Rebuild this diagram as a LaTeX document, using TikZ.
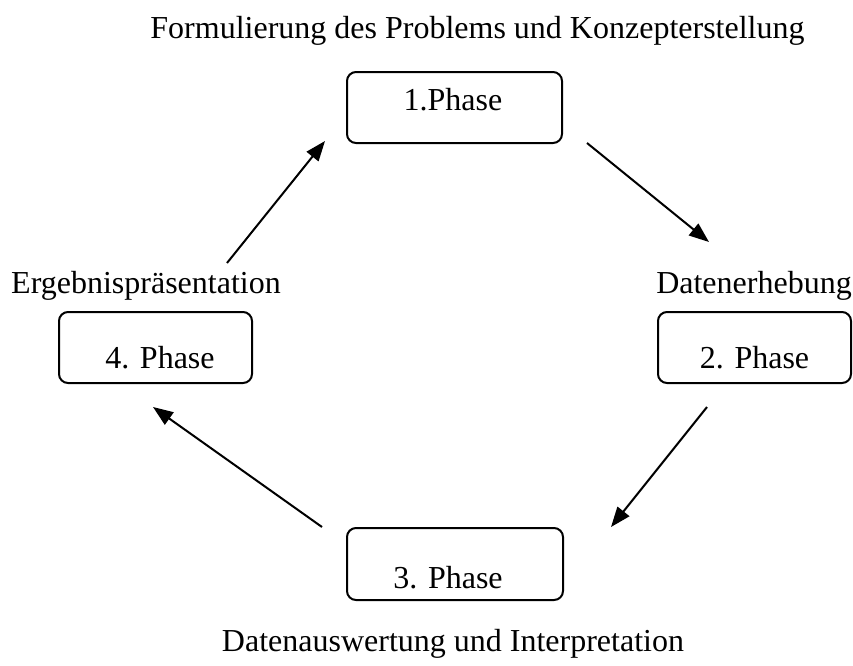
\documentclass[tikz,border=0pt]{standalone}
\usepackage{fontspec}
\setmainfont{Liberation Serif}
\usetikzlibrary{arrows.meta}
\begin{document}
\begin{tikzpicture}[x=1pt,y=-1pt,
  phasebox/.style={draw, line width=2pt, rounded corners=9pt, inner sep=0pt, minimum height=71pt},
  lbl/.style={anchor=base, inner sep=0pt, font=\fontsize{32}{38}\selectfont},
  flow/.style={line width=2pt, -{Triangle[length=20pt,width=15pt]}}]
\useasboundingbox (0,0) rectangle (853,665);
% boxes
\node[phasebox, minimum width=215pt] (b1) at (454.5,107.5) {};
\node[phasebox, minimum width=193pt] (b2) at (754.5,347.5) {};
\node[phasebox, minimum width=216pt, minimum height=72pt] (b3) at (455,564) {};
\node[phasebox, minimum width=193pt] (b4) at (155.5,347.5) {};
% box texts
\node[lbl] (t1) at (453,110) {1.Phase};
\node[lbl] (t2) at (754.5,368) {2. Phase};
\node[lbl] (t3) at (448,588) {3. Phase};
\node[lbl] (t4) at (160,368) {4. Phase};
% captions
\node[lbl] (c1) at (477.5,38) {Formulierung des Problems und Konzepterstellung};
\node[lbl] (c2) at (754,293) {Datenerhebung};
\node[lbl] (c3) at (453,651) {Datenauswertung und Interpretation};
\node[lbl] (c4) at (146,293) {Ergebnispräsentation};
% arrow ends
\coordinate (a1s) at (227,263); \coordinate (a1e) at (325,141);
\coordinate (a2s) at (587,143); \coordinate (a2e) at (709,242);
\coordinate (a3s) at (707,407); \coordinate (a3e) at (611,527);
\coordinate (a4s) at (322,527); \coordinate (a4e) at (153,407);
\draw[flow] (a1s) -- (a1e);
\draw[flow] (a2s) -- (a2e);
\draw[flow] (a3s) -- (a3e);
\draw[flow] (a4s) -- (a4e);
\end{tikzpicture}
\end{document}
